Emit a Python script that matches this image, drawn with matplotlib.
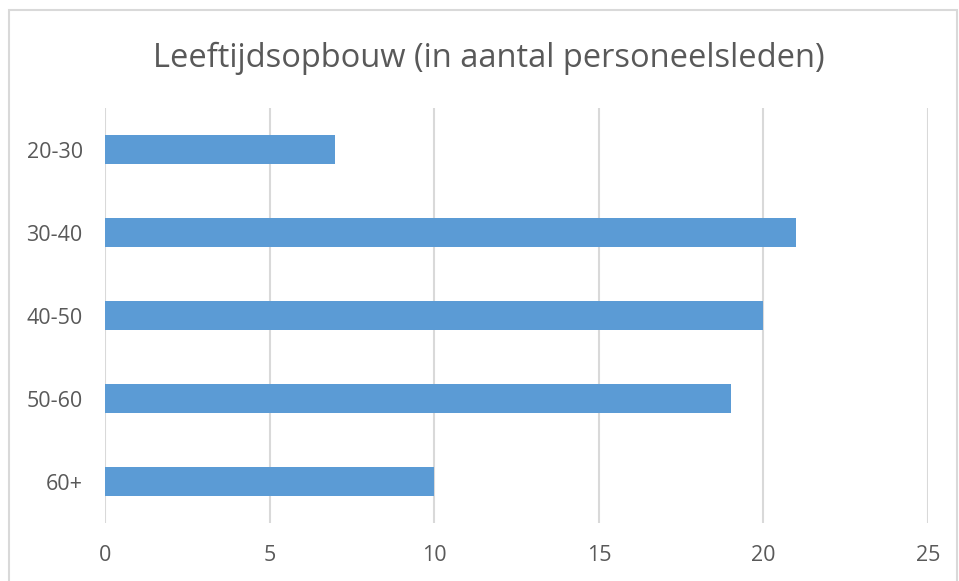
import matplotlib
matplotlib.use("Agg")
import matplotlib.pyplot as plt
from matplotlib.patches import Rectangle

# data
categories = ["20-30", "30-40", "40-50", "50-60", "60+"]
values = [7, 21, 20, 19, 10]
xticks = [0, 5, 10, 15, 20, 25]
title = "Leeftijdsopbouw (in aantal personeelsleden)"

plt.rcParams["font.family"] = ["Open Sans", "DejaVu Sans"]
text_color = "#595959"
grid_color = "#d9d9d9"

fig = plt.figure(figsize=(9.59, 5.81), dpi=100)
ax = fig.add_axes([0.1095, 0.0998, 0.8582, 0.7143])

ypos = list(range(len(categories)))
ax.barh(ypos, values, height=0.35, color="#5b9bd5", zorder=3)

ax.set_xlim(0, 25)
ax.set_ylim(len(categories) - 0.5, -0.5)
ax.set_xticks(xticks)
ax.set_yticks(ypos)
ax.set_yticklabels(categories)

ax.grid(axis="x", color=grid_color, linewidth=1.5, zorder=0)
for s in ax.spines.values():
    s.set_visible(False)
ax.tick_params(length=0, labelsize=15.5, colors=text_color)
ax.tick_params(axis="x", pad=16)
ax.tick_params(axis="y", pad=16)

fig.text(0.51, 0.9, title, ha="center", va="center", fontsize=23.5, color=text_color)

# chart border
fig.patches.append(Rectangle((9 / 959, -0.01), 948 / 959, 1 - 10 / 581 + 0.01,
                             transform=fig.transFigure, fill=False,
                             edgecolor=grid_color, linewidth=1.5))

fig.savefig("out.png", dpi=100)
